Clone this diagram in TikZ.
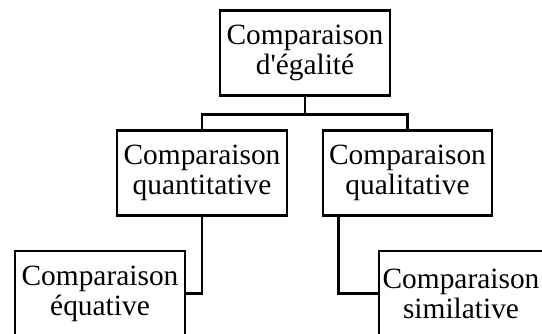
\documentclass[tikz,border=0pt]{standalone}
\usepackage{fontspec}
\newfontfamily\boxfont{Liberation Serif}
\usepackage{tikz}
\usetikzlibrary{calc,positioning}
\tikzset{
  box/.style={draw,line width=2.8pt,align=center,minimum width=170pt,minimum height=85pt,inner sep=2pt,font=\boxfont\fontsize{29.4}{30}\selectfont},
  link/.style={line width=2.8pt}
}
\begin{document}
\begin{tikzpicture}[x=1pt,y=1pt]
\useasboundingbox (0,0) rectangle (542,333);
\clip (0,0) rectangle (542,333);
\node[box] (egal) at (305,279.7) {Comparaison\\d'égalité};
\node[box] (quanti) at (202,160) {Comparaison\\quantitative};
\node[box,minimum width=169pt] (quali) at (407.5,160) {Comparaison\\qualitative};
\node[box] (equat) at (100,39.5) {Comparaison\\équative};
\node[box,minimum width=164pt] (simil) at (461,39.5) {Comparaison\\similative};
% fork under the top box
\draw[link] (egal.south) -- ++(0,-17.6) coordinate (split);
\draw[link] (quanti.north) |- (split) -| (quali.north);
% lower branches
\draw[link] (quanti.south) |- (equat.east);
\draw[link] ($(quali.south west)+(16.5,0)$) |- (simil.west);
\end{tikzpicture}
\end{document}
